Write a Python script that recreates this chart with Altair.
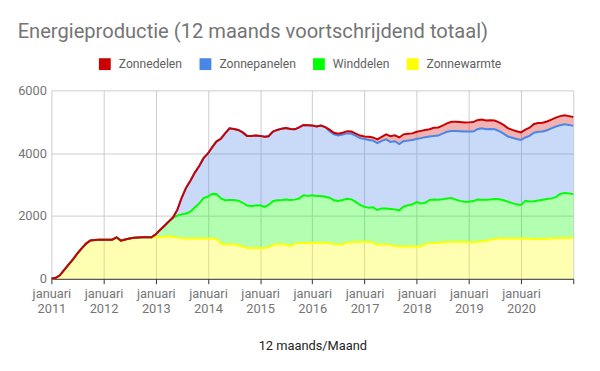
import altair as alt
import pandas as pd

# monthly, Jan 2011 .. Jan 2021 (121 points)
months = pd.date_range("2011-01-01", periods=121, freq="MS").strftime("%Y-%m-%dT00:00:00").tolist()

zonnewarmte = [
    0, 30, 110, 280, 450, 620, 800, 970, 1120, 1220, 1235, 1240,
    1240, 1240, 1245, 1320, 1215, 1250, 1280, 1305, 1315, 1320, 1320, 1320,
    1330, 1330, 1340, 1355, 1345, 1310, 1295, 1285, 1280, 1280, 1280, 1280,
    1280, 1280, 1270, 1130, 1090, 1100, 1100, 1075, 1020, 980, 980, 980,
    980, 980, 1000, 1080, 1100, 1100, 1090, 1040, 1120, 1135, 1140, 1140,
    1145, 1145, 1145, 1145, 1140, 1110, 1090, 1090, 1155, 1160, 1170, 1175,
    1180, 1170, 1160, 1080, 1100, 1100, 1080, 1045, 1035, 1030, 1030, 1030,
    1030, 1035, 1100, 1135, 1140, 1145, 1165, 1170, 1175, 1180, 1180, 1180,
    1165, 1165, 1170, 1190, 1210, 1240, 1260, 1290, 1290, 1285, 1285, 1285,
    1285, 1280, 1275, 1270, 1265, 1270, 1280, 1285, 1290, 1295, 1295, 1295,
    1295,
]

winddelen = [
    0, 0, 0, 0, 0, 0, 0, 0, 0, 0, 0, 0,
    0, 0, 0, 0, 0, 0, 0, 0, 0, 0, 0, 0,
    90, 230, 340, 465, 605, 700, 755, 795, 860, 990, 1120, 1290,
    1340, 1430, 1430, 1430, 1410, 1410, 1410, 1415, 1400, 1350, 1340, 1350,
    1360, 1310, 1350, 1390, 1400, 1410, 1435, 1470, 1400, 1425, 1520, 1500,
    1515, 1490, 1495, 1465, 1440, 1390, 1385, 1420, 1395, 1370, 1280, 1175,
    1110, 1095, 1115, 1110, 1140, 1135, 1145, 1165, 1145, 1270, 1310, 1340,
    1410, 1365, 1320, 1375, 1385, 1375, 1365, 1390, 1400, 1340, 1300, 1275,
    1290, 1310, 1355, 1330, 1310, 1285, 1280, 1245, 1210, 1170, 1125, 1085,
    1065, 1200, 1185, 1200, 1225, 1245, 1260, 1275, 1310, 1405, 1440, 1425,
    1395,
]

zonnepanelen = [
    0, 0, 0, 0, 0, 0, 0, 0, 0, 0, 0, 0,
    0, 0, 0, 0, 0, 0, 0, 0, 0, 0, 0, 0,
    0, 0, 0, 0, 0, 190, 530, 820, 990, 1110, 1190, 1270,
    1370, 1490, 1670, 1900, 2130, 2280, 2260, 2250, 2240, 2220, 2230, 2230,
    2210, 2230, 2190, 2220, 2240, 2270, 2275, 2260, 2240, 2260, 2240, 2250,
    2220, 2215, 2240, 2220, 2120, 2100, 2085, 2080, 2080, 2090, 2100, 2130,
    2160, 2155, 2125, 2130, 2150, 2205, 2135, 2170, 2110, 2080, 2060, 2050,
    2010, 2080, 2090, 2020, 2025, 2040, 2090, 2120, 2130, 2185, 2220, 2235,
    2235, 2215, 2235, 2270, 2240, 2245, 2220, 2165, 2120, 2075, 2080, 2080,
    2070, 2020, 2090, 2180, 2190, 2175, 2190, 2230, 2250, 2190, 2185, 2180,
    2180,
]

zonnedelen = [
    0, 0, 0, 0, 0, 0, 0, 0, 0, 0, 0, 0,
    0, 0, 0, 0, 0, 0, 0, 0, 0, 0, 0, 0,
    0, 0, 0, 0, 0, 0, 0, 0, 0, 0, 0, 0,
    0, 0, 0, 0, 0, 0, 0, 0, 0, 0, 0, 0,
    0, 0, 0, 0, 0, 0, 0, 0, 0, 0, 0, 0,
    0, 0, 0, 0, 50, 50, 60, 60, 70, 70, 70, 80,
    80, 100, 100, 120, 130, 160, 180, 190, 210, 220, 220, 210,
    230, 230, 230, 230, 260, 260, 260, 270, 295, 295, 290, 285,
    290, 300, 290, 280, 280, 280, 280, 280, 280, 270, 250, 250,
    240, 250, 260, 280, 280, 280, 280, 280, 280, 290, 290, 280,
    280,
]

legend_order = ["Zonnedelen", "Zonnepanelen", "Winddelen", "Zonnewarmte"]
colors = ["#cc0000", "#4a86e8", "#00ff00", "#ffff00"]
# stacking order, bottom to top
stack_order = ["Zonnewarmte", "Winddelen", "Zonnepanelen", "Zonnedelen"]
series = {
    "Zonnewarmte": zonnewarmte,
    "Winddelen": winddelen,
    "Zonnepanelen": zonnepanelen,
    "Zonnedelen": zonnedelen,
}

rows = []
for i, name in enumerate(stack_order):
    vals = series[name]
    assert len(vals) == len(months), (name, len(vals))
    for d, v in zip(months, vals):
        rows.append({"maand": d, "serie": name, "waarde": v, "volg": i})
df = pd.DataFrame(rows)

FONT = "Roboto"

base = alt.Chart(df).transform_stack(
    stack="waarde",
    groupby=["maand"],
    as_=["y0", "y1"],
    sort=[alt.SortField("volg", order="ascending")],
)

x_enc = alt.X(
    "maand:T",
    scale=alt.Scale(
        domain=[alt.DateTime(year=2011, month=1, date=1), alt.DateTime(year=2021, month=1, date=1)],
        nice=False,
    ),
    axis=alt.Axis(
        values=[alt.DateTime(year=y, month=1, date=1) for y in range(2011, 2022)],
        labelExpr="year(datum.value) > 2020 ? '' : ['januari', timeFormat(datum.value, '%Y')]",
        title="12 maands/Maand",
        titleFont=FONT,
        titleFontSize=13,
        titleFontWeight="normal",
        titleColor="#222222",
        titlePadding=25,
        labelFont=FONT,
        labelFontSize=13,
        labelColor="#757575",
        labelLineHeight=15,
        labelPadding=4,
        labelFlush=False,
        labelOverlap=False,
        domainColor="#333333",
        tickColor="#333333",
        tickSize=5,
        gridColor="#cccccc",
    ),
)

y_enc = alt.Y(
    "y1:Q",
    scale=alt.Scale(domain=[0, 6000], nice=False),
    axis=alt.Axis(
        values=[0, 2000, 4000, 6000],
        format="d",
        title=None,
        domain=False,
        ticks=False,
        labelPadding=5,
        labelFont=FONT,
        labelFontSize=13,
        labelColor="#757575",
        gridColor="#cccccc",
    ),
)

areas = base.mark_area(opacity=0.3).encode(
    x=x_enc,
    y=y_enc,
    y2="y0:Q",
    color=alt.Color(
        "serie:N",
        scale=alt.Scale(domain=legend_order, range=colors),
        legend=alt.Legend(
            orient="none",
            legendX=48,
            legendY=-33,
            direction="horizontal",
            title=None,
            symbolType="square",
            symbolSize=144,
            symbolOpacity=1,
            symbolStrokeWidth=0,
            labelFont=FONT,
            labelFontSize=12.3,
            labelColor="#616161",
            labelOffset=8,
            columnPadding=17,
            padding=0,
        ),
    ),
)

lines = []
for name in stack_order:
    c = colors[legend_order.index(name)]
    lines.append(
        base.transform_filter(alt.datum.serie == name)
        .mark_line(color=c, strokeWidth=2)
        .encode(x=x_enc, y=y_enc)
    )

chart = (
    alt.layer(areas, *lines)
    .properties(
        width=529,
        height=191,
        autosize=alt.AutoSizeParams(type="none"),
        padding={"left": 44, "top": 81, "right": 19, "bottom": 91},
        title=alt.TitleParams(
            text="Energieproductie (12 maands voortschrijdend totaal)",
            anchor="start",
            frame="bounds",
            font=FONT,
            fontSize=20.4,
            fontWeight="normal",
            color="#757575",
            offset=16,
        ),
        background="white",
    )
    .configure_view(stroke=None)
)

chart.save("out.html", embed_options={"renderer": "svg", "actions": False})
